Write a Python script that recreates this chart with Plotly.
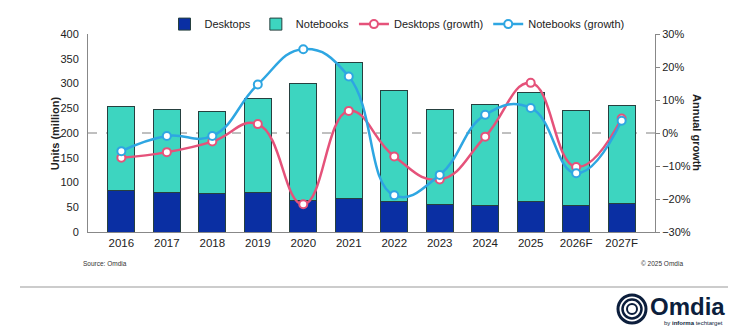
import plotly.graph_objects as go

years = ["2016", "2017", "2018", "2019", "2020", "2021", "2022", "2023", "2024", "2025", "2026F", "2027F"]
desktops = [84, 79, 77, 79, 63, 67, 61, 55, 53, 61, 54, 57]
notebooks = [169, 169, 166, 190, 237, 276, 224, 193, 204, 220, 192, 199]
desktops_growth = [-7.5, -5.8, -2.6, 2.7, -21.6, 6.7, -7.1, -14.1, -1.1, 15.2, -10.3, 4.4]
notebooks_growth = [-5.5, -0.9, -0.9, 14.7, 25.4, 17.1, -18.9, -12.7, 5.5, 7.6, -12.2, 3.7]

FONT = "Liberation Sans, Arial, sans-serif"
C_DESK = "#0a2fa3"
C_NOTE = "#3dd5c0"
C_PINK = "#e5527a"
C_BLUE = "#2ea6e2"
BAR_LINE = "#26403f"
NAVY = "#0c1e3c"

fig = go.Figure()
fig.add_trace(go.Bar(x=years, y=desktops, name="Desktops", marker=dict(color=C_DESK, line=dict(color=BAR_LINE, width=1))))
fig.add_trace(go.Bar(x=years, y=notebooks, name="Notebooks", marker=dict(color=C_NOTE, line=dict(color=BAR_LINE, width=1))))
fig.add_trace(go.Scatter(x=years, y=desktops_growth, name="Desktops (growth)", yaxis="y2", mode="lines+markers",
                         line=dict(color=C_PINK, width=2.5, shape="spline", smoothing=1.3),
                         marker=dict(symbol="circle", size=8, color="white", line=dict(color=C_PINK, width=2))))
fig.add_trace(go.Scatter(x=years, y=notebooks_growth, name="Notebooks (growth)", yaxis="y2", mode="lines+markers",
                         line=dict(color=C_BLUE, width=2.5, shape="spline", smoothing=1.3),
                         marker=dict(symbol="circle", size=8, color="white", line=dict(color=C_BLUE, width=2))))

fig.update_layout(
    width=750, height=335,
    margin=dict(l=88, r=95, t=34, b=103, autoexpand=False),
    paper_bgcolor="white", plot_bgcolor="white",
    barmode="stack", bargap=0.41,
    font=dict(family=FONT, size=11, color="#222222"),
    showlegend=True,
    legend=dict(orientation="h", x=(397 - 88) / 567, xanchor="center", y=1.05, yanchor="middle",
                font=dict(size=11, color="#222222"), traceorder="normal", itemwidth=30,
                bgcolor="rgba(0,0,0,0)"),
    xaxis=dict(type="category", showline=True, linecolor="#888888", linewidth=1, ticks="",
               tickfont=dict(size=11.5, color="#222222"), showgrid=False, fixedrange=True),
    yaxis=dict(range=[0, 400], dtick=50, showline=True, linecolor="#888888", linewidth=1, ticks="",
               showgrid=False, zeroline=False, tickfont=dict(size=11, color="#222222"), ticklabelstandoff=6),
    yaxis2=dict(range=[-30, 30], dtick=10, ticksuffix="%", overlaying="y", side="right", showline=True,
                linecolor="#888888", linewidth=1, ticks="outside", ticklen=4, tickcolor="#888888",
                showgrid=False, zeroline=False, tickfont=dict(size=11, color="#222222")),
)

fig.add_shape(type="line", xref="paper", yref="y2", x0=0, x1=1, y0=0, y1=0,
              line=dict(color="#808080", width=1, dash="dash"), layer="below")

annotations = [
    dict(text="<b>Units (million)</b>", x=-0.072, y=0.5, xref="paper", yref="paper", textangle=-90,
         showarrow=False, font=dict(size=11, color="#222222")),
    dict(text="<b>Annual growth</b>", x=1.088, y=0.5, xref="paper", yref="paper", textangle=90,
         showarrow=False, font=dict(size=11, color="#222222")),
    dict(text="Source: Omdia", x=(81 - 88) / 567, y=(232 - 263) / 198, xref="paper", yref="paper",
         xanchor="left", yanchor="middle", showarrow=False, font=dict(size=6.5, color="#333333")),
    dict(text="© 2025 Omdia", x=(685 - 88) / 567, y=(232 - 263) / 198, xref="paper", yref="paper",
         xanchor="right", yanchor="middle", showarrow=False, font=dict(size=6.5, color="#333333")),
    dict(text="<b>Omdia</b>", x=(727 - 88) / 567, y=(232 - 306) / 198, xref="paper", yref="paper",
         xanchor="right", yanchor="middle", showarrow=False, font=dict(size=24, color=NAVY)),
    dict(text="by <b>informa</b> techtarget", x=(725 - 88) / 567, y=(232 - 323) / 198, xref="paper", yref="paper",
         xanchor="right", yanchor="middle", showarrow=False, font=dict(size=6, color=NAVY)),
]
fig.update_layout(annotations=annotations)

# footer divider line
fig.add_shape(type="line", xref="paper", yref="paper", x0=(20 - 88) / 567, x1=(728 - 88) / 567,
              y0=(232 - 287) / 198, y1=(232 - 287) / 198, line=dict(color="#bbbbbb", width=1.5))

# logo icon (concentric rings)
cx, cy = (632 - 88) / 567, (232 - 309) / 198
for r, w in [(14, 3), (9.5, 2.5), (5, 2)]:
    fig.add_shape(type="circle", xref="paper", yref="paper", xsizemode="pixel", ysizemode="pixel",
                  xanchor=cx, yanchor=cy, x0=-r, x1=r, y0=-r, y1=r,
                  line=dict(color=NAVY, width=w))

fig.write_html("out.html")
